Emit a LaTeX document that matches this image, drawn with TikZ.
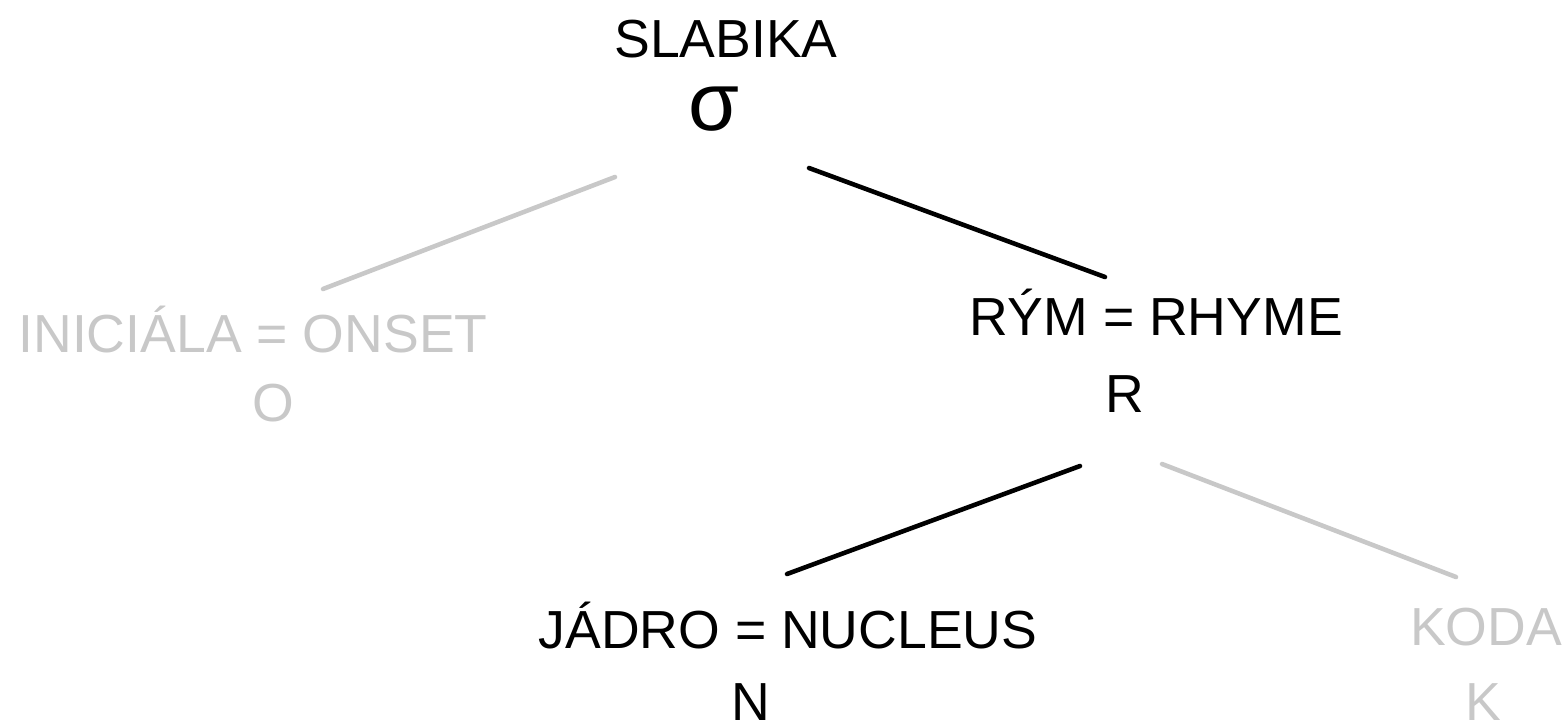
\documentclass[tikz,border=0pt]{standalone}
\usepackage{fontspec}
\setmainfont{Liberation Sans}
\definecolor{treegrey}{RGB}{200,200,200}
\definecolor{treeblack}{RGB}{0,0,0}

\begin{document}
\begin{tikzpicture}[x=0.02cm,y=-0.02cm,
  lbl/.style={anchor=base,inner sep=0pt,font=\fontsize{30.5}{37}\selectfont},
  edge/.style={line width=2.6pt,line cap=round}]
\useasboundingbox (0,0) rectangle (1568,724);

% Syllable
\node[lbl] (slabika) at (726,57) {SLABIKA};
\node[lbl,font=\fontsize{47}{56}\selectfont] (sigma) at (714,130) {σ};

% Onset
\node[lbl,treegrey] (onset) at (253,352) {INICIÁLA = ONSET};
\node[lbl,treegrey] (o) at (273,421) {O};

% Rhyme
\node[lbl] (rhyme) at (1156,335) {RÝM = RHYME};
\node[lbl] (r) at (1125,412) {R};

% Nucleus
\node[lbl] (nucleus) at (788,648) {JÁDRO = NUCLEUS};
\node[lbl] (n) at (751,720) {N};

% Coda
\node[lbl,treegrey] (koda) at (1486,645) {KODA};
\node[lbl,treegrey] (k) at (1483,720) {K};

% Branch ends
\coordinate (sigmaL) at (615,177);
\coordinate (sigmaR) at (809,168);
\coordinate (onsetT) at (323,289);
\coordinate (rhymeT) at (1105,277);
\coordinate (rL) at (1080,466);
\coordinate (rR) at (1162,464);
\coordinate (nucleusT) at (787,574);
\coordinate (kodaT) at (1456,577);

% Branches
\draw[edge,treegrey] (sigmaL) -- (onsetT);
\draw[edge,treeblack] (sigmaR) -- (rhymeT);
\draw[edge,treeblack] (rL) -- (nucleusT);
\draw[edge,treegrey] (rR) -- (kodaT);
\end{tikzpicture}
\end{document}
